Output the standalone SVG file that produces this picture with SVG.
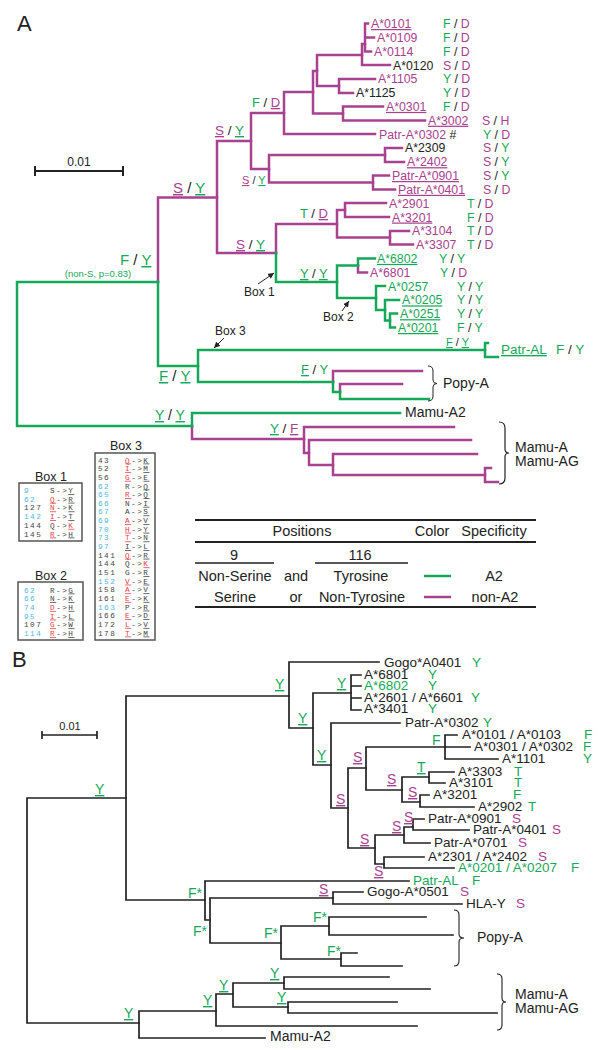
<svg xmlns="http://www.w3.org/2000/svg" width="609" height="1050" viewBox="0 0 609 1050">
<defs>
<style>
text{font-family:"Liberation Sans",Arial,sans-serif;font-size:13.5px;fill:#222}
.m{fill:none;stroke:#a8418f;stroke-width:2.5;stroke-linecap:square}
.g{fill:none;stroke:#16a85a;stroke-width:2.5;stroke-linecap:square}
.k{fill:none;stroke:#222;stroke-width:1.7;stroke-linecap:square}
.cm{fill:#a8418f}
.cg{fill:#16a85a}
.ck{fill:#222}
.u{text-decoration:underline}
.lf{font-size:12.3px}
.mono{font-family:"Liberation Mono","DejaVu Sans Mono",monospace;font-size:7.7px;letter-spacing:1.5px;fill:#444}
.nb{fill:#4fb6e6}
.nr{fill:#e8404a}
.box{fill:#fff;stroke:#555;stroke-width:1.5}
.rule{stroke:#222;stroke-width:2}
.tb{font-size:14.5px;text-anchor:middle}
</style>
<marker id="ah" viewBox="0 0 6 6" refX="6" refY="3" markerWidth="6" markerHeight="6" markerUnits="userSpaceOnUse" orient="auto"><path d="M0,0 L6,3 L0,6 z" fill="#222"/></marker>
</defs>
<rect width="609" height="1050" fill="#fff"/>

<text x="17" y="31" style="font-size:22px">A</text>
<text x="12" y="667" style="font-size:22px">B</text>

<!-- Scale bars -->
<g id="scaleA">
<path d="M35,171 H123 M35,166 V176 M123,166 V176" stroke="#222" stroke-width="2" fill="none"/>
<text x="79" y="166" text-anchor="middle" style="font-size:12px">0.01</text>
</g>
<g id="scaleB">
<path d="M42,735 H97 M42,731 V739 M97,731 V739" stroke="#222" stroke-width="1.7" fill="none"/>
<text x="70" y="730" text-anchor="middle" style="font-size:11px">0.01</text>
</g>

<!-- Connectors panel A -->
<g id="connectorsA">
<path class="m" d="M368,23.5 H365 V51.5 H371 M365,37.5 H374"/>
<path class="m" d="M365,44 H362 V65 H390"/>
<path class="m" d="M362,55 H317 V86 H339"/>
<path class="m" d="M375,79 H339 V93 H353"/>
<path class="m" d="M383,106.5 H343 V120.5 H425"/>
<path class="m" d="M317,71 H313 V113.5 H343"/>
<path class="m" d="M313,92 H284 V134 H375"/>
<path class="m" d="M402,148 H385 V162 H404"/>
<path class="m" d="M389,175.5 H373 V189.5 H395"/>
<path class="m" d="M385,155 H269 V182.5 H373"/>
<path class="m" d="M284,113 H251 V169 H269"/>
<path class="m" d="M386,203 H345 V217 H389"/>
<path class="m" d="M409,231 H390 V244.5 H413"/>
<path class="m" d="M345,210 H337 V237.5 H390"/>
<path class="m" d="M337,224 H276 V253"/>
<path class="m" d="M251,141 H217 V253 H276"/>
<path class="m" d="M217,197.5 H158 V282"/>
<path class="m" d="M358,265.5 V272.5 H367"/>
<path class="m" d="M422,371 H333 V382"/>
<path class="m" d="M402,384 H340 V391.5"/>
<path class="m" d="M192,426 V439 H304"/>
<path class="m" d="M454,427 H304 V453 H309"/>
<path class="m" d="M471,440 H309 V465 H333"/>
<path class="m" d="M477,454 H333 V475 H485"/>
<path class="m" d="M491,468 H485 V482 H498"/>

<path class="g" d="M276,253 V282 H337"/>
<path class="g" d="M375,258.5 H358 V265.5"/>
<path class="g" d="M358,265.5 H337 V298 H376"/>
<path class="g" d="M385,286 H376 V310 H385"/>
<path class="g" d="M399,300 H385 V320.5 H390"/>
<path class="g" d="M397,313.5 H390 V327.5 H395"/>
<path class="g" d="M158,282 V366 H198"/>
<path class="g" d="M158,282 H17 V426 H192"/>
<path class="g" d="M485,350 H198 V382 H333"/>
<path class="g" d="M488,343 H485 V357 H498"/>
<path class="g" d="M333,382 V392 H340"/>
<path class="g" d="M340,391.5 V399 H429"/>
<path class="g" d="M400,413 H192 V426"/>

<path d="M258,284 L274,273" stroke="#222" stroke-width="1" marker-end="url(#ah)"/>
<path d="M342,311 L349,301" stroke="#222" stroke-width="1" marker-end="url(#ah)"/>
<path d="M224,338 L214,348" stroke="#222" stroke-width="1" marker-end="url(#ah)"/>
<path d="M428,366 q5,0 5,5 V380 q0,3.5 4,3.5 q-4,0 -4,3.5 V396 q0,5 -5,5" fill="none" stroke="#222" stroke-width="1"/>
<path d="M499,422 q6,0 6,6 V449 q0,4 4,4 q-4,0 -4,4 V478 q0,6 -6,6" fill="none" stroke="#222" stroke-width="1.2"/>
</g>

<!-- Branch labels A -->
<g id="branchlabelsA">
<text x="120" y="265" style="font-size:15px"><tspan class="cg">F</tspan> / <tspan class="cg u">Y</tspan></text>
<text x="98" y="277" text-anchor="middle" class="cg" style="font-size:9.5px">(non-S, p=0.83)</text>
<text x="173" y="193" style="font-size:15px"><tspan class="cm u">S</tspan> / <tspan class="cg u">Y</tspan></text>
<text x="215" y="135"><tspan class="cm u">S</tspan> / <tspan class="cg u">Y</tspan></text>
<text x="252" y="107" style="font-size:13px"><tspan class="cg">F</tspan> / <tspan class="cm u">D</tspan></text>
<text x="242" y="184" style="font-size:11px"><tspan class="cm u">S</tspan> / <tspan class="cg u">Y</tspan></text>
<text x="236" y="249"><tspan class="cm u">S</tspan> / <tspan class="cg u">Y</tspan></text>
<text x="300" y="218" style="font-size:13px"><tspan class="cg">T</tspan> / <tspan class="cm u">D</tspan></text>
<text x="300" y="278" style="font-size:13px"><tspan class="cg u">Y</tspan> / <tspan class="cg u">Y</tspan></text>
<text x="159" y="381" style="font-size:15px"><tspan class="cg u">F</tspan> / <tspan class="cg u">Y</tspan></text>
<text x="446" y="346" style="font-size:11px"><tspan class="cg u">F</tspan> / <tspan class="cg u">Y</tspan></text>
<text x="301" y="374" style="font-size:13px"><tspan class="cg u">F</tspan> / <tspan class="cg">Y</tspan></text>
<text x="155" y="420" style="font-size:14px"><tspan class="cg u">Y</tspan> / <tspan class="cg u">Y</tspan></text>
<text x="270" y="433"><tspan class="cg u">Y</tspan> / <tspan class="cm u">F</tspan></text>
<text x="244" y="296" style="font-size:12px">Box 1</text>
<text x="323" y="321" style="font-size:12px">Box 2</text>
<text x="215" y="335" style="font-size:12px">Box 3</text>
</g>

<!-- Leaves A -->
<g id="leavesA" class="lf">
<text class="lf" x="371" y="28"><tspan class="cm u">A*0101</tspan></text><text class="lf" x="443" y="28"><tspan class="cg">F</tspan> / <tspan class="cm">D</tspan></text>
<text class="lf cm" x="377" y="41.8">A*0109</text><text class="lf" x="443" y="41.8"><tspan class="cg">F</tspan> / <tspan class="cm">D</tspan></text>
<text class="lf cm" x="374" y="55.6">A*0114</text><text class="lf" x="443" y="55.6"><tspan class="cg">F</tspan> / <tspan class="cm">D</tspan></text>
<text class="lf" x="393" y="69.5">A*0120</text><text class="lf" x="443" y="69.5"><tspan class="cm">S</tspan> / <tspan class="cm">D</tspan></text>
<text class="lf cm" x="378" y="83.3">A*1105</text><text class="lf" x="443" y="83.3"><tspan class="cg">Y</tspan> / <tspan class="cm">D</tspan></text>
<text class="lf" x="356" y="97.1">A*1125</text><text class="lf" x="443" y="97.1"><tspan class="cg">Y</tspan> / <tspan class="cm">D</tspan></text>
<text class="lf" x="386" y="110.9"><tspan class="cm u">A*0301</tspan></text><text class="lf" x="443" y="110.9"><tspan class="cg">F</tspan> / <tspan class="cm">D</tspan></text>
<text class="lf" x="428" y="124.7"><tspan class="cm u">A*3002</tspan></text><text class="lf" x="482" y="124.7"><tspan class="cm">S</tspan> / <tspan class="cm">H</tspan></text>
<text class="lf" x="379" y="138.5"><tspan class="cm">Patr-A*0302</tspan> #</text><text class="lf" x="483" y="138.5"><tspan class="cg">Y</tspan> / <tspan class="cm">D</tspan></text>
<text class="lf" x="405" y="152.4">A*2309</text><text class="lf" x="483" y="152.4"><tspan class="cm">S</tspan> / <tspan class="cg">Y</tspan></text>
<text class="lf" x="407" y="166.2"><tspan class="cm u">A*2402</tspan></text><text class="lf" x="483" y="166.2"><tspan class="cm">S</tspan> / <tspan class="cg">Y</tspan></text>
<text class="lf" x="392" y="180"><tspan class="cm u">Patr-A*0901</tspan></text><text class="lf" x="483" y="180"><tspan class="cm">S</tspan> / <tspan class="cg">Y</tspan></text>
<text class="lf" x="398" y="193.8"><tspan class="cm u">Patr-A*0401</tspan></text><text class="lf" x="483" y="193.8"><tspan class="cm">S</tspan> / <tspan class="cm">D</tspan></text>
<text class="lf cm" x="389" y="207.6">A*2901</text><text class="lf" x="467" y="207.6"><tspan class="cg">T</tspan> / <tspan class="cm">D</tspan></text>
<text class="lf" x="392" y="221.5"><tspan class="cm u">A*3201</tspan></text><text class="lf" x="467" y="221.5"><tspan class="cg">F</tspan> / <tspan class="cm">D</tspan></text>
<text class="lf cm" x="412" y="235.3">A*3104</text><text class="lf" x="467" y="235.3"><tspan class="cg">T</tspan> / <tspan class="cm">D</tspan></text>
<text class="lf cm" x="416" y="249.1">A*3307</text><text class="lf" x="467" y="249.1"><tspan class="cg">T</tspan> / <tspan class="cm">D</tspan></text>
<text class="lf" x="377" y="262.9"><tspan class="cg u">A*6802</tspan></text><text class="lf" x="439" y="262.9"><tspan class="cg">Y</tspan> / <tspan class="cg">Y</tspan></text>
<text class="lf cm" x="370" y="276.7">A*6801</text><text class="lf" x="440" y="276.7"><tspan class="cg">Y</tspan> / <tspan class="cm">D</tspan></text>
<text class="lf cg" x="388" y="290.5">A*0257</text><text class="lf" x="457" y="290.5"><tspan class="cg">Y</tspan> / <tspan class="cg">Y</tspan></text>
<text class="lf" x="402" y="304.4"><tspan class="cg u">A*0205</tspan></text><text class="lf" x="457" y="304.4"><tspan class="cg">Y</tspan> / <tspan class="cg">Y</tspan></text>
<text class="lf" x="400" y="318.2"><tspan class="cg u">A*0251</tspan></text><text class="lf" x="457" y="318.2"><tspan class="cg">Y</tspan> / <tspan class="cg">Y</tspan></text>
<text class="lf" x="398" y="332"><tspan class="cg u">A*0201</tspan></text><text class="lf" x="457" y="332"><tspan class="cg">F</tspan> / <tspan class="cg">Y</tspan></text>
<text x="501" y="354"><tspan class="cg u">Patr-AL</tspan></text><text x="556" y="354"><tspan class="cg">F</tspan> / <tspan class="cg">Y</tspan></text>
<text x="443" y="388" style="font-size:14px">Popy-A</text>
<text x="405" y="417" style="font-size:14px">Mamu-A2</text>
<text x="515" y="452" style="font-size:14px">Mamu-A</text>
<text x="515" y="466" style="font-size:14px">Mamu-AG</text>
</g>

<!-- Boxes -->
<g id="box1">
<text x="51" y="481" text-anchor="middle" style="font-size:12.5px">Box 1</text>
<rect class="box" x="19" y="483" width="63" height="58"/>
<text class="mono" x="24" y="493"><tspan class="nb">9</tspan></text><text class="mono" x="50" y="493">S-&gt;<tspan class="u">Y</tspan></text>
<text class="mono" x="24" y="501.7"><tspan class="nb">62</tspan></text><text class="mono" x="50" y="501.7"><tspan class="nr u">Q</tspan>-&gt;<tspan class="u">R</tspan></text>
<text class="mono" x="24" y="510.4">127</text><text class="mono" x="50" y="510.4"><tspan class="nr u">N</tspan>-&gt;<tspan class="u">K</tspan></text>
<text class="mono" x="24" y="519.1"><tspan class="nb">142</tspan></text><text class="mono" x="50" y="519.1"><tspan class="nr u">I</tspan>-&gt;<tspan class="u">T</tspan></text>
<text class="mono" x="24" y="527.8">144</text><text class="mono" x="50" y="527.8">Q-&gt;<tspan class="nr u">K</tspan></text>
<text class="mono" x="24" y="536.5">145</text><text class="mono" x="50" y="536.5"><tspan class="nr u">R</tspan>-&gt;<tspan class="u">H</tspan></text>
</g>
<g id="box2">
<text x="51" y="580" text-anchor="middle" style="font-size:12.5px">Box 2</text>
<rect class="box" x="18" y="582" width="65" height="58"/>
<text class="mono" x="24" y="592.5"><tspan class="nb">62</tspan></text><text class="mono" x="50" y="592.5">R-&gt;<tspan class="u">G</tspan></text>
<text class="mono" x="24" y="601.2"><tspan class="nb">66</tspan></text><text class="mono" x="50" y="601.2"><tspan class="u">N</tspan>-&gt;<tspan class="u">K</tspan></text>
<text class="mono" x="24" y="609.9"><tspan class="nb">74</tspan></text><text class="mono" x="50" y="609.9"><tspan class="nr u">D</tspan>-&gt;<tspan class="u">H</tspan></text>
<text class="mono" x="24" y="618.6"><tspan class="nb">95</tspan></text><text class="mono" x="50" y="618.6"><tspan class="nr u">I</tspan>-&gt;<tspan class="u">L</tspan></text>
<text class="mono" x="24" y="627.3">107</text><text class="mono" x="50" y="627.3"><tspan class="nr u">G</tspan>-&gt;<tspan class="u">W</tspan></text>
<text class="mono" x="24" y="636"><tspan class="nb">114</tspan></text><text class="mono" x="50" y="636"><tspan class="nr u">R</tspan>-&gt;<tspan class="u">H</tspan></text>
</g>
<g id="box3">
<text x="126" y="450" text-anchor="middle" style="font-size:12.5px">Box 3</text>
<rect class="box" x="95" y="453" width="60" height="187"/>
<text class="mono" x="98" y="462.5">43</text><text class="mono" x="125" y="462.5"><tspan class="nr u">Q</tspan>-&gt;<tspan class="u">K</tspan></text>
<text class="mono" x="98" y="471.2">52</text><text class="mono" x="125" y="471.2"><tspan class="nr u">I</tspan>-&gt;<tspan class="u">M</tspan></text>
<text class="mono" x="98" y="479.8">56</text><text class="mono" x="125" y="479.8"><tspan class="nr u">G</tspan>-&gt;<tspan class="u">E</tspan></text>
<text class="mono" x="98" y="488.5"><tspan class="nb">62</tspan></text><text class="mono" x="125" y="488.5">R-&gt;<tspan class="u">Q</tspan></text>
<text class="mono" x="98" y="497.1"><tspan class="nb">65</tspan></text><text class="mono" x="125" y="497.1"><tspan class="nr u">R</tspan>-&gt;<tspan class="u">Q</tspan></text>
<text class="mono" x="98" y="505.8"><tspan class="nb">66</tspan></text><text class="mono" x="125" y="505.8">N-&gt;<tspan class="u">I</tspan></text>
<text class="mono" x="98" y="514.4"><tspan class="nb">67</tspan></text><text class="mono" x="125" y="514.4">A-&gt;<tspan class="u">S</tspan></text>
<text class="mono" x="98" y="523.1"><tspan class="nb">69</tspan></text><text class="mono" x="125" y="523.1"><tspan class="nr u">A</tspan>-&gt;<tspan class="u">V</tspan></text>
<text class="mono" x="98" y="531.7"><tspan class="nb">70</tspan></text><text class="mono" x="125" y="531.7"><tspan class="nr u">H</tspan>-&gt;<tspan class="u">Y</tspan></text>
<text class="mono" x="98" y="540.4"><tspan class="nb">73</tspan></text><text class="mono" x="125" y="540.4"><tspan class="nr u">T</tspan>-&gt;<tspan class="u">N</tspan></text>
<text class="mono" x="98" y="549"><tspan class="nb">97</tspan></text><text class="mono" x="125" y="549"><tspan class="u">I</tspan>-&gt;<tspan class="u">L</tspan></text>
<text class="mono" x="98" y="557.7">141</text><text class="mono" x="125" y="557.7"><tspan class="nr u">Q</tspan>-&gt;<tspan class="u">R</tspan></text>
<text class="mono" x="98" y="566.3">144</text><text class="mono" x="125" y="566.3">Q-&gt;<tspan class="nr u">K</tspan></text>
<text class="mono" x="98" y="575">151</text><text class="mono" x="125" y="575">G-&gt;<tspan class="u">R</tspan></text>
<text class="mono" x="98" y="583.6"><tspan class="nb">152</tspan></text><text class="mono" x="125" y="583.6"><tspan class="nr u">V</tspan>-&gt;<tspan class="u">E</tspan></text>
<text class="mono" x="98" y="592.3">158</text><text class="mono" x="125" y="592.3"><tspan class="nr u">A</tspan>-&gt;<tspan class="u">V</tspan></text>
<text class="mono" x="98" y="600.9">161</text><text class="mono" x="125" y="600.9"><tspan class="nr u">E</tspan>-&gt;<tspan class="u">K</tspan></text>
<text class="mono" x="98" y="609.6"><tspan class="nb">163</tspan></text><text class="mono" x="125" y="609.6">P-&gt;<tspan class="u">R</tspan></text>
<text class="mono" x="98" y="618.2">166</text><text class="mono" x="125" y="618.2"><tspan class="nr u">E</tspan>-&gt;<tspan class="u">D</tspan></text>
<text class="mono" x="98" y="626.9">172</text><text class="mono" x="125" y="626.9"><tspan class="nr u">L</tspan>-&gt;<tspan class="u">V</tspan></text>
<text class="mono" x="98" y="635.5">178</text><text class="mono" x="125" y="635.5"><tspan class="nr u">T</tspan>-&gt;<tspan class="u">M</tspan></text>
</g>

<!-- Table -->
<g id="legend">
<path class="rule" d="M195,520 H536 M195,542 H536 M195,607 H536"/>
<path d="M195,563 H274 M315,563 H408" stroke="#222" stroke-width="1.5"/>
<text class="tb" x="302" y="536">Positions</text>
<text class="tb" x="432" y="536">Color</text>
<text class="tb" x="494" y="536">Specificity</text>
<text class="tb" x="234" y="560">9</text>
<text class="tb" x="360" y="560">116</text>
<text class="tb" x="235" y="581">Non-Serine</text>
<text class="tb" x="296" y="581">and</text>
<text class="tb" x="361" y="581">Tyrosine</text>
<text class="tb" x="494" y="581">A2</text>
<text class="tb" x="235" y="602">Serine</text>
<text class="tb" x="296" y="602">or</text>
<text class="tb" x="362" y="602">Non-Tyrosine</text>
<text class="tb" x="495" y="602">non-A2</text>
<path d="M424,576 H451" stroke="#16a85a" stroke-width="2.5"/>
<path d="M424,597 H451" stroke="#a8418f" stroke-width="2.5"/>
</g>

<!-- Connectors panel B -->
<g id="connectorsB">
<path class="k" d="M126,798 H27 V1023 H139"/>
<path class="k" d="M289,696 H126 V900 H205"/>
<path class="k" d="M379,662 H289 V728 H313"/>
<path class="k" d="M351,693 H313 V765 H331"/>
<path class="k" d="M361,675 H351 V710 H361 M351,686 H361 M351,698 H361"/>
<path class="k" d="M400,723 H331 V808 H348"/>
<path class="k" d="M366,768 H348 V848 H375"/>
<path class="k" d="M445,747 H366 V790 H402"/>
<path class="k" d="M457,735 H445 V759 H498 M445,747 H470"/>
<path class="k" d="M429,777 H402 V802 H420"/>
<path class="k" d="M454,772 H429 V783 H445"/>
<path class="k" d="M429,795 H420 V807 H474"/>
<path class="k" d="M404,835 H375 V864 H384"/>
<path class="k" d="M413,827 H404 V843 H430"/>
<path class="k" d="M424,819 H413 V830 H469"/>
<path class="k" d="M424,857 H384 V868 H454"/>
<path class="k" d="M409,881 H205 V920 H210"/>
<path class="k" d="M333,898 H210 V943 H281"/>
<path class="k" d="M363,892 H333 V904 H462"/>
<path class="k" d="M329,926 H281 V959 H341"/>
<path class="k" d="M426,917 H329 V935 H453"/>
<path class="k" d="M357,953 H341 V966 H402"/>
<path class="k" d="M216,1011 H139 V1038 H265"/>
<path class="k" d="M233,994 H216 V1026 H417"/>
<path class="k" d="M284,983 H233 V1007 H288"/>
<path class="k" d="M389,977 H284 V989 H430"/>
<path class="k" d="M397,1002 H288 V1013 H497"/>
<path d="M454,910 q5,0 5,5 V934 q0,4 5,4 q-5,0 -5,4 V961 q0,5 -5,5" fill="none" stroke="#222" stroke-width="1.1"/>
<path d="M497,974 q5,0 5,5 V998 q0,4 4,4 q-4,0 -4,4 V1025 q0,5 -5,5" fill="none" stroke="#222" stroke-width="1.1"/>
</g>

<!-- Branch labels B -->
<g id="branchlabelsB">
<text x="95" y="794" style="font-size:14px" class="cg u">Y</text>
<text x="275" y="689" style="font-size:14px" class="cg u">Y</text>
<text x="298" y="723" style="font-size:14px" class="cg u">Y</text>
<text x="337" y="688" style="font-size:14px" class="cg u">Y</text>
<text x="317" y="760" style="font-size:14px" class="cg u">Y</text>
<text x="432" y="745" style="font-size:14px" class="cg">F</text>
<text x="417" y="772" style="font-size:14px" class="cg u">T</text>
<text x="336" y="804" style="font-size:14px" class="cm u">S</text>
<text x="353" y="762" style="font-size:14px" class="cm u">S</text>
<text x="360" y="844" style="font-size:14px" class="cm u">S</text>
<text x="387" y="784" style="font-size:14px" class="cm u">S</text>
<text x="408" y="797" style="font-size:14px" class="cm u">S</text>
<text x="392" y="831" style="font-size:14px" class="cm u">S</text>
<text x="404" y="822" style="font-size:14px" class="cm u">S</text>
<text x="374" y="876" style="font-size:14px" class="cm u">S</text>
<text x="319" y="894" style="font-size:14px" class="cm u">S</text>
<text x="188" y="898" style="font-size:14px" class="cg">F*</text>
<text x="193" y="936" style="font-size:14px" class="cg">F*</text>
<text x="264" y="938" style="font-size:14px" class="cg">F*</text>
<text x="313" y="922" style="font-size:14px" class="cg">F*</text>
<text x="327" y="956" style="font-size:14px" class="cg">F*</text>
<text x="124" y="1018" style="font-size:14px" class="cg u">Y</text>
<text x="203" y="1005" style="font-size:14px" class="cg u">Y</text>
<text x="219" y="990" style="font-size:14px" class="cg u">Y</text>
<text x="270" y="978" style="font-size:14px" class="cg u">Y</text>
<text x="277" y="1002" style="font-size:14px" class="cg u">Y</text>
</g>

<!-- Leaves B -->
<g id="leavesB">
<text x="384" y="667">Gogo*A0401</text><text x="472" y="667" class="cg">Y</text>
<text x="364" y="679">A*6801</text><text x="428" y="679" class="cg">Y</text>
<text x="364" y="690" class="cg">A*6802</text><text x="428" y="690" class="cg">Y</text>
<text x="364" y="702">A*2601 / A*6601</text><text x="471" y="702" class="cg">Y</text>
<text x="364" y="713">A*3401</text><text x="428" y="713" class="cg">Y</text>
<text x="405" y="727">Patr-A*0302</text><text x="483" y="727" class="cg">Y</text>
<text x="462" y="739">A*0101 / A*0103</text><text x="584" y="739" class="cg">F</text>
<text x="474" y="751">A*0301 / A*0302</text><text x="583" y="751" class="cg">F</text>
<text x="502" y="763">A*1101</text><text x="583" y="763" class="cg">Y</text>
<text x="458" y="776">A*3303</text><text x="514" y="776" class="cg">T</text>
<text x="449" y="787">A*3101</text><text x="514" y="787" class="cg">T</text>
<text x="433" y="799">A*3201</text><text x="513" y="799" class="cg">F</text>
<text x="478" y="811">A*2902</text><text x="528" y="811" class="cg">T</text>
<text x="428" y="823">Patr-A*0901</text><text x="512" y="823" class="cm">S</text>
<text x="473" y="834">Patr-A*0401</text><text x="552" y="834" class="cm">S</text>
<text x="434" y="847">Patr-A*0701</text><text x="518" y="847" class="cm">S</text>
<text x="428" y="861">A*2301 / A*2402</text><text x="538" y="861" class="cm">S</text>
<text x="458" y="872" class="cg">A*0201 / A*0207</text><text x="571" y="872" class="cg">F</text>
<text x="413" y="885" class="cg">Patr-AL</text><text x="472" y="885" class="cg">F</text>
<text x="367" y="896">Gogo-A*0501</text><text x="460" y="896" class="cm">S</text>
<text x="466" y="908">HLA-Y</text><text x="516" y="908" class="cm">S</text>
<text x="477" y="942" style="font-size:14px">Popy-A</text>
<text x="515" y="999" style="font-size:14px">Mamu-A</text>
<text x="515" y="1013" style="font-size:14px">Mamu-AG</text>
<text x="270" y="1041" style="font-size:14px">Mamu-A2</text>
</g>
</svg>
